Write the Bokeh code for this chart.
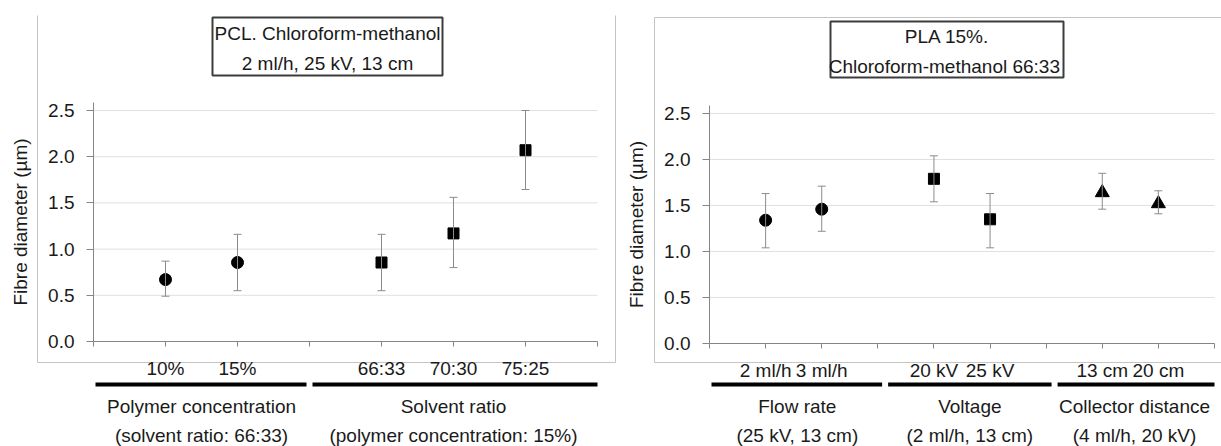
from bokeh.plotting import figure
from bokeh.models import (Range1d, FixedTicker, NumeralTickFormatter, Whisker, TeeHead,
                          ColumnDataSource)
from bokeh.core.properties import value
from bokeh.layouts import row
from bokeh.embed import file_html
from bokeh.resources import INLINE

# ---------------- data ----------------
pcl_x = [1, 2, 4, 5, 6]
pcl_labels = ["10%", "15%", "66:33", "70:30", "75:25"]
pcl_mean = [0.67, 0.855, 0.855, 1.17, 2.07]
pcl_low = [0.49, 0.55, 0.55, 0.80, 1.645]
pcl_high = [0.87, 1.16, 1.16, 1.56, 2.50]
pcl_marker = ["circle", "circle", "square", "square", "square"]
pcl_groups = ["Polymer concentration\n(solvent ratio: 66:33)",
              "Solvent ratio\n(polymer concentration: 15%)"]
pcl_group_edges = [0, 3, 7]
pcl_title = "PCL. Chloroform-methanol\n2 ml/h, 25 kV, 13 cm"

pla_x = [1, 2, 4, 5, 7, 8]
pla_labels = ["2 ml/h", "3 ml/h", "20 kV", "25 kV", "13 cm", "20 cm"]
pla_mean = [1.34, 1.46, 1.79, 1.35, 1.64, 1.52]
pla_low = [1.04, 1.22, 1.54, 1.04, 1.46, 1.41]
pla_high = [1.63, 1.71, 2.04, 1.63, 1.85, 1.66]
pla_marker = ["circle", "circle", "square", "square", "triangle", "triangle"]
pla_groups = ["Flow rate\n(25 kV, 13 cm)", "Voltage\n(2 ml/h, 13 cm)",
              "Collector distance\n(4 ml/h, 20 kV)"]
pla_group_edges = [0, 3.13, 6.15, 9]
pla_title = "PLA 15%.\nChloroform-methanol  66:33"

y_ticks = [0, 0.5, 1.0, 1.5, 2.0, 2.5]
y_label = "Fibre diameter (\u00b5m)"

# ---------------- style ----------------
FONT = "Liberation Sans"
TEXT = "#1a1a1a"
AXIS = "#858585"
GRID = "#e0e0e0"
ERR = "#8c8c8c"
FRAME = "#c4c4c4"
FS = "19px"
H = 446
MSIZE = {"circle": 12, "square": 11, "triangle": 14}


def panel(fig_x0, width, L, R, T, B, Y25, xmax, x, labels, mean, low, high, marker,
          groups, edges, title, tbox, border, right_open):
    ppu = (B - Y25) / 2.5          # pixels per y unit
    ppx = (R - L) / xmax           # pixels per x unit

    def dx(px):                    # page pixel -> data x
        return (px - L) / ppx

    def dy(py):                    # page pixel -> data y
        return (B - py) / ppu

    p = figure(width=width, height=H,
               x_range=Range1d(dx(fig_x0), dx(fig_x0 + width)),
               y_range=Range1d(dy(H), dy(0)),
               output_backend="svg", toolbar_location=None,
               min_border_left=0, min_border_right=0, min_border_top=0, min_border_bottom=0,
               outline_line_color=None, background_fill_color="white",
               border_fill_color="white")
    p.xgrid.visible = False
    p.ygrid.visible = False

    ytop = dy(T)

    # x axis (at y = 0)
    xa = p.xaxis[0]
    xa.fixed_location = 0
    xa.bounds = (0, xmax)
    xa.ticker = FixedTicker(ticks=list(range(xmax + 1)), minor_ticks=[])
    ov = {i: "" for i in range(xmax + 1)}
    for xi, lab in zip(x, labels):
        ov[xi] = lab
    xa.major_label_overrides = ov
    xa.major_label_text_font = FONT
    xa.major_label_text_font_size = FS
    xa.major_label_text_color = TEXT
    xa.major_label_standoff = 11
    xa.major_tick_out = 5
    xa.major_tick_in = 0
    xa.minor_tick_line_color = None
    xa.axis_line_color = AXIS
    xa.major_tick_line_color = AXIS

    # y axis (at x = 0)
    ya = p.yaxis[0]
    ya.fixed_location = 0
    ya.bounds = (0, ytop)
    ya.ticker = FixedTicker(ticks=y_ticks, minor_ticks=[])
    ya.formatter = NumeralTickFormatter(format="0.0")
    ya.major_label_text_font = FONT
    ya.major_label_text_font_size = FS
    ya.major_label_text_color = TEXT
    ya.major_label_standoff = 12
    ya.major_tick_out = 7
    ya.major_tick_in = 0
    ya.minor_tick_line_color = None
    ya.axis_line_color = AXIS
    ya.major_tick_line_color = AXIS
    ya.axis_label = y_label
    ya.axis_label_text_font = FONT
    ya.axis_label_text_font_size = FS
    ya.axis_label_text_font_style = "normal"
    ya.axis_label_text_color = TEXT
    ya.axis_label_standoff = 14

    # outer chart border (light grey)
    bl, bt, br, bb = border
    sx0 = [dx(bl), dx(bl)]
    sy0 = [dy(bt), dy(bb)]
    sx1 = [dx(bl), dx(br)]
    sy1 = [dy(bb), dy(bb)]
    if right_open:
        sx0.append(dx(bl)); sy0.append(dy(bt)); sx1.append(dx(br)); sy1.append(dy(bt))
    else:
        sx0.append(dx(br)); sy0.append(dy(bt)); sx1.append(dx(br)); sy1.append(dy(bb))
    p.segment(sx0, sy0, sx1, sy1, line_color=FRAME, line_width=1)

    # horizontal gridlines
    gy = [t for t in y_ticks if t > 0]
    p.segment([0] * len(gy), gy, [xmax] * len(gy), gy, line_color=GRID, line_width=1)

    # data: error bars + markers
    src = ColumnDataSource(dict(x=x, mean=mean, low=low, high=high, marker=marker,
                                size=[MSIZE[m] for m in marker]))
    p.add_layout(Whisker(source=src, base="x", lower="low", upper="high",
                         line_color=ERR, line_width=1, level="glyph",
                         upper_head=TeeHead(size=8, line_color=ERR, line_width=1),
                         lower_head=TeeHead(size=8, line_color=ERR, line_width=1)))
    p.scatter("x", "mean", marker="marker", size="size", source=src,
              fill_color="black", line_color="black")

    # group underlines and labels
    gap = 3 / ppx
    xs, xe, xc = [], [], []
    for i in range(len(groups)):
        a, b = edges[i], edges[i + 1]
        xs.append(a + (gap if i > 0 else 2 / ppx))
        xe.append(b - (gap if i < len(groups) - 1 else 0))
        xc.append((a + b) / 2)
    yl = dy(384)
    p.segment(xs, [yl] * len(xs), xe, [yl] * len(xs), line_color="black",
              line_width=4, line_cap="butt")
    p.text(xc, [dy(420.5)] * len(xc), text=groups, text_align="center",
           text_baseline="middle", text_font=value(FONT), text_font_size=value(FS),
           text_color=TEXT, text_line_height=1.4)

    # title box
    x0, y0, x1, y1 = tbox
    p.quad(left=[dx(x0)], right=[dx(x1)], top=[dy(y0)], bottom=[dy(y1)],
           fill_color="white", line_color="#3c3c3c", line_width=2)
    p.text([dx((x0 + x1) / 2)], [dy((y0 + y1) / 2 + 2)], text=[title],
           text_align="center", text_baseline="middle", text_font=value(FONT),
           text_font_size=value(FS), text_color=TEXT, text_line_height=1.42)
    return p


pL = panel(0, 620, 93, 597, 102, 341, 110, 7, pcl_x, pcl_labels, pcl_mean, pcl_low,
           pcl_high, pcl_marker, pcl_groups, pcl_group_edges, pcl_title,
           (212, 17, 442, 75), (37, 15, 615, 362), False)
pR = panel(620, 601, 709, 1214, 105, 343, 113, 9, pla_x, pla_labels, pla_mean, pla_low,
           pla_high, pla_marker, pla_groups, pla_group_edges, pla_title,
           (830, 21, 1063, 77), (654, 17, 1221, 362), True)

layout = row(pL, pR)
open("out.html", "w").write(file_html(layout, INLINE))
